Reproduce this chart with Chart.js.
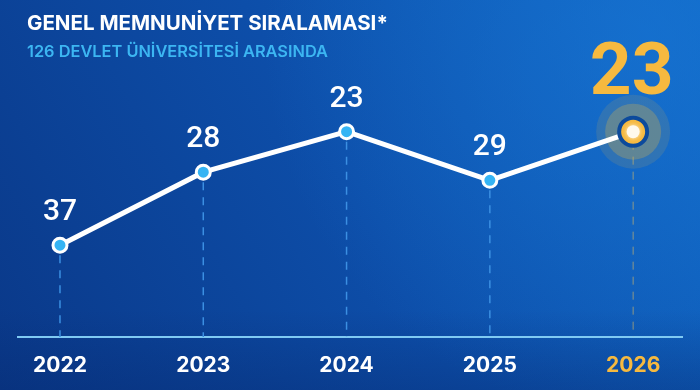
<!DOCTYPE html>
<html>
<head>
<meta charset="utf-8">
<script src="https://cdn.jsdelivr.net/npm/chart.js@4/dist/chart.umd.min.js"></script>
<style>
html,body{margin:0;padding:0;background:#0b3f8e;}
#wrap{width:700px;height:390px;position:relative;}
</style>
</head>
<body>
<div id="wrap"><canvas id="c" width="700" height="390"></canvas></div>
<script>
const titleText = 'GENEL MEMNUNİYET SIRALAMASI*';
const subtitleText = '126 DEVLET ÜNİVERSİTESİ ARASINDA';
const years = [2022, 2023, 2024, 2025, 2026];
const ranks = [37, 28, 23, 29, 23];
const highlightYear = 2026;

const GOLD = '#f6b93f';
const WHITE = '#ffffff';
const POINT_BLUE = '#35b4f4';
const hi = years.indexOf(highlightYear);

function fitFont(ctx, text, weight, family, target) {
  ctx.font = weight + ' 20px ' + family;
  const w = ctx.measureText(text).width;
  return weight + ' ' + (20 * target / w).toFixed(2) + 'px ' + family;
}

const bgPlugin = {
  id: 'bg',
  beforeDraw(chart) {
    const {ctx, width, height} = chart;
    ctx.save();
    let g = ctx.createLinearGradient(0, height, width, 0);
    g.addColorStop(0, '#0a3888');
    g.addColorStop(0.5, '#0d4ea9');
    g.addColorStop(1, '#1068c6');
    ctx.fillStyle = g;
    ctx.fillRect(0, 0, width, height);
    let r = ctx.createRadialGradient(width * 0.92, 40, 10, width * 0.92, 40, 380);
    r.addColorStop(0, 'rgba(25,120,215,0.55)');
    r.addColorStop(1, 'rgba(25,120,215,0)');
    ctx.fillStyle = r;
    ctx.fillRect(0, 0, width, height);
    let b = ctx.createLinearGradient(0, height - 80, 0, height);
    b.addColorStop(0, 'rgba(5,40,110,0)');
    b.addColorStop(1, 'rgba(5,40,110,0.35)');
    ctx.fillStyle = b;
    ctx.fillRect(0, 0, width, height);
    // titles
    ctx.textBaseline = 'alphabetic';
    ctx.textAlign = 'left';
    ctx.fillStyle = WHITE;
    ctx.font = fitFont(ctx, titleText, 'bold', 'Inter', 361);
    ctx.fillText(titleText, 27, 30);
    ctx.fillStyle = '#3cb6f2';
    ctx.font = fitFont(ctx, subtitleText, '600', 'Inter', 301);
    ctx.fillText(subtitleText, 27, 57);
    ctx.restore();
  },
  beforeDatasetsDraw(chart) {
    const {ctx} = chart;
    const meta = chart.getDatasetMeta(0);
    const bottom = chart.chartArea.bottom;
    ctx.save();
    meta.data.forEach((pt, i) => {
      ctx.beginPath();
      if (i === hi) {
        ctx.strokeStyle = 'rgba(225,190,100,0.6)';
        ctx.lineWidth = 1;
      } else {
        ctx.strokeStyle = '#3b8fe2';
        ctx.lineWidth = 1.5;
      }
      ctx.setLineDash([8, 7]);
      ctx.moveTo(pt.x, pt.y + 10);
      ctx.lineTo(pt.x, bottom);
      ctx.stroke();
    });
    ctx.setLineDash([]);
    const p = meta.data[hi];
    ctx.beginPath();
    ctx.arc(p.x, p.y, 37, 0, Math.PI * 2);
    ctx.fillStyle = 'rgba(200,170,90,0.16)';
    ctx.fill();
    ctx.beginPath();
    ctx.arc(p.x, p.y, 28, 0, Math.PI * 2);
    ctx.fillStyle = 'rgba(210,175,80,0.3)';
    ctx.fill();
    ctx.restore();
  },
  afterDatasetsDraw(chart) {
    const {ctx} = chart;
    const meta = chart.getDatasetMeta(0);
    ctx.save();
    const p = meta.data[hi];
    ctx.beginPath();
    ctx.arc(p.x, p.y, 6.5, 0, Math.PI * 2);
    ctx.fillStyle = '#fff9ec';
    ctx.shadowColor = 'rgba(255,255,255,0.8)';
    ctx.shadowBlur = 4;
    ctx.fill();
    ctx.shadowBlur = 0;
    ctx.textAlign = 'center';
    ctx.textBaseline = 'alphabetic';
    meta.data.forEach((pt, i) => {
      const v = chart.data.datasets[0].data[i].y;
      if (i === hi) {
        ctx.fillStyle = GOLD;
        ctx.font = 'bold 73px Roboto';
        ctx.fillText(String(v), pt.x - 1.5, pt.y - 38);
      } else {
        ctx.fillStyle = WHITE;
        ctx.font = '500 30px Roboto';
        ctx.fillText(String(v), pt.x, pt.y - 25);
      }
    });
    ctx.restore();
  }
};

new Chart(document.getElementById('c'), {
  type: 'line',
  data: {
    datasets: [{
      data: years.map((y, i) => ({x: y, y: ranks[i]})),
      borderColor: WHITE,
      borderWidth: 5,
      tension: 0,
      pointRadius: years.map((y, i) => i === hi ? 14 : 7),
      pointBackgroundColor: years.map((y, i) => i === hi ? GOLD : POINT_BLUE),
      pointBorderColor: years.map((y, i) => i === hi ? '#0c4a9c' : WHITE),
      pointBorderWidth: years.map((y, i) => i === hi ? 4 : 3),
      clip: false
    }]
  },
  options: {
    responsive: false,
    animation: false,
    layout: {padding: {left: 10, right: 10, top: 60, bottom: 0}},
    plugins: {legend: {display: false}, tooltip: {enabled: false}},
    scales: {
      x: {
        type: 'linear',
        min: 2021.707,
        max: 2026.341,
        afterBuildTicks(scale) { scale.ticks = years.map(v => ({value: v})); },
        afterFit(scale) { scale.height = 53; },
        grid: {display: false, drawTicks: false},
        border: {display: true, color: '#7fcaf3', width: 2},
        ticks: {
          padding: 16,
          autoSkip: false,
          maxRotation: 0,
          font: {family: 'Inter', size: 21, weight: 'bold'},
          color: ctx => ctx.tick && ctx.tick.value === highlightYear ? GOLD : WHITE,
          callback: v => String(v)
        }
      },
      y: {
        display: false,
        reverse: true,
        min: 14.16,
        max: 48.33
      }
    }
  },
  plugins: [bgPlugin]
});
</script>
</body>
</html>
